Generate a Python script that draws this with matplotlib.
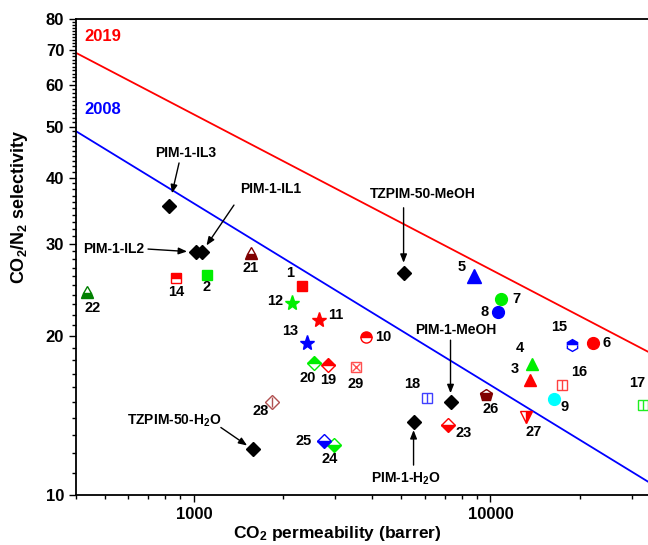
import matplotlib
matplotlib.use("Agg")
import matplotlib.pyplot as plt
from matplotlib.ticker import FixedLocator, FuncFormatter, NullFormatter

plt.rcParams['font.family'] = ['Liberation Sans', 'DejaVu Sans']
plt.rcParams['font.weight'] = 'bold'
plt.rcParams['mathtext.fontset'] = 'custom'
plt.rcParams['mathtext.rm'] = 'Liberation Sans:bold'
plt.rcParams['mathtext.bf'] = 'Liberation Sans:bold'
plt.rcParams['mathtext.default'] = 'bf'

# upper bounds (read at the two plot edges)
bound_x = [400, 34000]
bound_2008 = [49.0, 10.6]
bound_2019 = [69.0, 18.7]

# numbered literature points
num_labels = [str(i) for i in range(1, 30)]
num_perm = [2309, 1106, 13640, 13850, 8830, 22230, 10890, 10640, 16430, 3794,
            2635, 2138, 2402, 870, 18885, 17475, 32740, 6087, 2826, 2535,
            1555, 436, 7165, 2961, 2740, 9694, 13220, 1831, 3512]
num_sel = [24.9, 26.15, 16.5, 17.7, 26.0, 19.4, 23.55, 22.25, 15.2, 19.9,
           21.5, 23.1, 19.4, 25.8, 19.25, 16.2, 14.8, 15.3, 17.65, 17.8,
           28.8, 24.3, 13.6, 12.45, 12.65, 15.5, 14.05, 15.0, 17.5]

# this work
pim_names = ['PIM-1-IL3', 'PIM-1-IL1', 'PIM-1-IL2', 'TZPIM-50-MeOH', 'PIM-1-MeOH',
             r'PIM-1-H$_2$O', r'TZPIM-50-H$_2$O']
pim_perm = [824, 1064, 1016, 5094, 7334, 5504, 1580]
pim_sel = [35.35, 28.9, 28.9, 26.4, 15.0, 13.75, 12.2]

# marker, colour, fillstyle, size, overlay (for open squares/diamonds with lines)
styles = [
    ('s', '#ff0000', 'full', 7, None),
    ('s', '#00ee00', 'full', 7, None),
    ('^', '#ff0000', 'full', 9, None),
    ('^', '#00ee00', 'full', 9, None),
    ('^', '#0000ff', 'full', 10, None),
    ('o', '#ff0000', 'full', 8.5, None),
    ('o', '#00ee00', 'full', 8.5, None),
    ('o', '#0000ff', 'full', 8.5, None),
    ('o', '#00ffff', 'full', 8.5, None),
    ('o', '#ff0000', 'top', 8, None),
    ('*', '#ff0000', 'full', 11, None),
    ('*', '#00ee00', 'full', 11, None),
    ('*', '#0000ff', 'full', 11, None),
    ('s', '#ff0000', 'top', 7, None),
    ('h', '#0000ff', 'top', 8.5, None),
    ('s', '#ff4040', 'none', 7, '|'),
    ('s', '#20ee20', 'none', 7, '|'),
    ('s', '#4040ff', 'none', 7, '|'),
    ('D', '#ff0000', 'top', 7, None),
    ('D', '#00ee00', 'top', 7, None),
    ('^', '#800000', 'bottom', 9, None),
    ('^', '#008000', 'bottom', 9, None),
    ('D', '#ff0000', 'bottom', 7, None),
    ('D', '#00ee00', 'bottom', 7, None),
    ('D', '#0000ff', 'bottom', 7, None),
    ('p', '#800000', 'bottom', 9, None),
    ('v', '#ff0000', 'right', 9, None),
    ('D', '#b05050', 'none', 7, '|'),
    ('s', '#ff5050', 'none', 7, 'x'),
]

# label offsets in pixels (dx right, dy down)
label_off = [(-12, -13), (0, 12), (-16, -11), (-12, -16), (-13, -9), (13, 0), (15, 0),
             (-14, 0), (10, 8), (18, 0), (17, -5), (-17, -2), (-17, -12), (0, 14),
             (-13, -18), (17, -13), (-6, -22), (-14, -14), (0, 15), (-6, 15),
             (0, 15), (6, 16), (16, 8), (-4, 14), (-20, 0), (4, 14), (7, 15),
             (-11, 9), (0, 17)]

# named points: text offset, arrow start offset, gap at head (all pixels, dy down)
pim_text_off = [(17, -53), (69, -63), (-82, -3), (19, -79), (5, -72), (-8, 57), (-79, -29)]
pim_arrow_off = [(10, -43), (32, -47), (-48, -3), (0, -65), (0, -62), (0, 43), (-32, -22)]
pim_gap = [13, 8, 9, 10, 9, 8, 7]

fig = plt.figure(figsize=(6.48, 5.45), dpi=100)
ax = fig.add_axes([76 / 648, 1 - 495 / 545, (648 - 76) / 648, (495 - 19) / 545])
ax.set_xscale('log')
ax.set_yscale('log')
ax.set_xlim(400, 34000)
ax.set_ylim(10, 80)

ax.plot(bound_x, bound_2019, color='#ff0000', lw=1.3, zorder=2)
ax.plot(bound_x, bound_2008, color='#0000ff', lw=1.3, zorder=2)
ax.text(0.014, 0.964, '2019', color='#ff0000', fontsize=12, fontweight='bold',
        transform=ax.transAxes, va='center')
ax.text(0.014, 0.809, '2008', color='#0000ff', fontsize=12, fontweight='bold',
        transform=ax.transAxes, va='center')

for i in range(len(num_labels)):
    mk, col, fs, ms, over = styles[i]
    x, y = num_perm[i], num_sel[i]
    if fs == 'none':
        ax.plot(x, y, marker=mk, ms=ms, mfc='white', mec=col, mew=1.0, ls='none', zorder=3)
        ax.plot(x, y, marker=over, ms=ms * (0.75 if over == 'x' else 1.0), mec=col, mew=1.0,
                ls='none', zorder=4)
    else:
        ax.plot(x, y, marker=mk, ms=ms, color=col, fillstyle=fs, mfc=col,
                mfcalt='white', mec=col, mew=1.0, ls='none', zorder=3)
    dx, dy = label_off[i]
    ax.annotate(num_labels[i], (x, y), xytext=(dx, -dy), textcoords='offset pixels',
                ha='center', va='center', fontsize=10.5, fontweight='bold')

for i in range(len(pim_names)):
    x, y = pim_perm[i], pim_sel[i]
    ax.plot(x, y, marker='D', ms=7, color='black', ls='none', zorder=5)
    tx, ty = pim_text_off[i]
    ax.annotate(pim_names[i], (x, y), xytext=(tx, -ty), textcoords='offset pixels',
                ha='center', va='center', fontsize=10, fontweight='bold')
    ax_, ay_ = pim_arrow_off[i]
    ax.annotate('', (x, y), xytext=(ax_, -ay_), textcoords='offset pixels',
                arrowprops=dict(arrowstyle='-|>,head_length=0.5,head_width=0.2',
                                color='black', lw=1.0, shrinkA=0,
                                shrinkB=pim_gap[i] * 0.72))

ax.set_xlabel('CO$_2$ permeability (barrer)', fontsize=12.5, fontweight='bold')
ax.set_ylabel('CO$_2$/N$_2$ selectivity', fontsize=13, fontweight='bold')
ax.xaxis.set_label_coords(0.456, -0.06)
ax.yaxis.set_label_coords(-0.08, 0.605)

ax.xaxis.set_major_locator(FixedLocator([1000, 10000]))
ax.xaxis.set_major_formatter(FuncFormatter(lambda v, p: '%d' % v))
ax.xaxis.set_minor_locator(FixedLocator([m * 10 ** e for e in (2, 3, 4) for m in range(2, 10)]))
ax.xaxis.set_minor_formatter(NullFormatter())
ax.yaxis.set_major_locator(FixedLocator([10, 20, 30, 40, 50, 60, 70, 80]))
ax.yaxis.set_major_formatter(FuncFormatter(lambda v, p: '%d' % v))
ax.yaxis.set_minor_locator(FixedLocator([v for v in range(11, 80) if v % 10]))
ax.yaxis.set_minor_formatter(NullFormatter())
ax.tick_params(which='both', direction='out', width=1.0, labelsize=12)
ax.tick_params(which='major', length=5)
ax.tick_params(which='minor', length=3)
for lab in ax.get_xticklabels() + ax.get_yticklabels():
    lab.set_fontweight('bold')
for s in ax.spines.values():
    s.set_linewidth(1.3)
ax.spines['right'].set_visible(False)

fig.savefig('out.png', dpi=100)
